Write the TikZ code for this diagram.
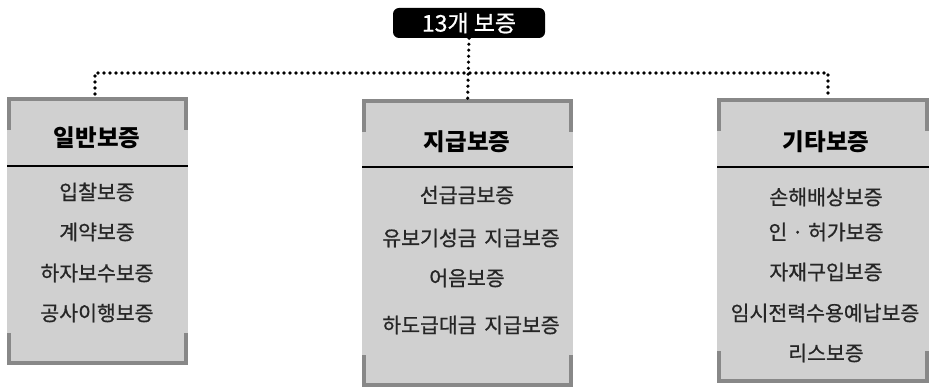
\documentclass[tikz,border=0pt]{standalone}
\usepackage{fontspec}
\setmainfont{Noto Sans CJK KR}
\newfontfamily\itemfont[FakeBold=0.8]{Noto Sans CJK KR}
\usetikzlibrary{calc}
\definecolor{boxgrey}{HTML}{D0D0D0}
\definecolor{edgegrey}{HTML}{888888}
\tikzset{
  dotline/.style={line width=3.6pt, line cap=round, dash pattern=on 0pt off 6pt},
  gbox/.style={fill=boxgrey, draw=none, inner sep=0pt, anchor=north west},
  brk/.style={draw=edgegrey, line width=4pt},
  divider/.style={draw=black, line width=1.8pt},
  headtxt/.style={font=\fontsize{23.5}{26}\selectfont\bfseries, text=black, inner sep=0pt},
  itemtxt/.style={font=\itemfont\fontsize{20.5}{23}\selectfont, text=black!85, inner sep=0pt},
  titlebox/.style={fill=black, rounded corners=6pt, text=white, inner sep=0pt,
    minimum width=152pt, minimum height=30pt, font=\itemfont\fontsize{23}{26}\selectfont}
}
\begin{document}
\begin{tikzpicture}[x=1pt,y=-1pt]
\useasboundingbox (0,0) rectangle (929,387);
% boxes
\node[gbox, minimum width=181pt, minimum height=268pt] (g1) at (7,97) {};
\node[gbox, minimum width=211pt, minimum height=288pt] (g2) at (362,99) {};
\node[gbox, minimum width=212pt, minimum height=285pt] (g3) at (717,98) {};
% corner brackets
\foreach \b in {g1,g2,g3}{
  \draw[brk] ($(\b.north west)+(2,33)$) -- ($(\b.north west)+(2,2)$) -- ($(\b.north east)+(-2,2)$) -- ($(\b.north east)+(-2,33)$);
  \draw[brk] ($(\b.south west)+(2,-32)$) -- ($(\b.south west)+(2,-2)$) -- ($(\b.south east)+(-2,-2)$) -- ($(\b.south east)+(-2,-32)$);
}
% dividers
\draw[divider] (7,166) -- (188,166);
\draw[divider] (362,167) -- (573,167);
\draw[divider] (717,167) -- (929,167);
% title
\node[titlebox] (t) at (469,23) {13개 보증};
% headers
\node[headtxt] (h1) at (97,138) {일반보증};
\node[headtxt] (h2) at (467,142) {지급보증};
\node[headtxt] (h3) at (826,142) {기타보증};
% items left
\node[itemtxt] (a1) at (97,192) {입찰보증};
\node[itemtxt] (a2) at (97,232) {계약보증};
\node[itemtxt] (a3) at (97,273) {하자보수보증};
\node[itemtxt] (a4) at (97,313) {공사이행보증};
% items middle
\node[itemtxt] (b1) at (467,195) {선급금보증};
\node[itemtxt] (b2) at (471,238) {유보기성금\hspace{3pt} 지급보증};
\node[itemtxt] (b3) at (467,278) {어음보증};
\node[itemtxt] (b4) at (471,325) {하도급대금\hspace{3pt} 지급보증};
% items right
\node[itemtxt] (c1) at (826,197) {손해배상보증};
\node[itemtxt] (c2) at (826,232) {인 · 허가보증};
\node[itemtxt] (c3) at (826,272) {자재구입보증};
\node[itemtxt] (c4) at (825,313) {임시전력수용예납보증};
\node[itemtxt] (c5) at (826,353) {리스보증};
% connectors
\coordinate (p1) at (95,94);
\coordinate (p3) at (828,94);
\coordinate (j1) at (95,73);
\coordinate (j3) at (828,73);
\draw[dotline] (t.south) -- (g2.north);
\draw[dotline] (p1) -- (j1) -- (j3) -- (p3);
\end{tikzpicture}
\end{document}
